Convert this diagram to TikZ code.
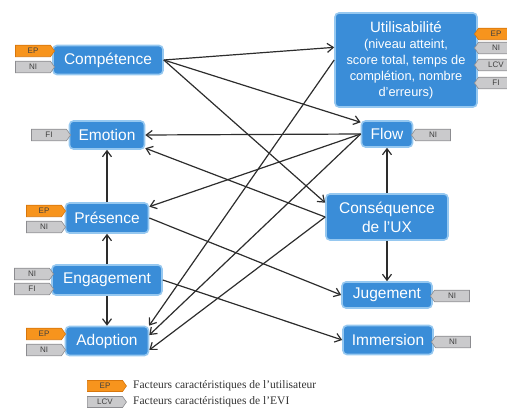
\documentclass[tikz,border=0pt]{standalone}
\usepackage{fontspec}
\setmainfont{Liberation Serif}
\setsansfont{Liberation Sans}
\usetikzlibrary{arrows.meta,shapes.symbols}
\definecolor{boxblue}{RGB}{58,141,216}
\definecolor{boxglow}{RGB}{150,200,240}
\definecolor{tagorange}{RGB}{247,148,29}
\definecolor{tagorangeline}{RGB}{215,118,12}
\definecolor{taggray}{RGB}{202,202,204}
\definecolor{taggrayline}{RGB}{140,140,144}
\definecolor{linkgray}{RGB}{45,45,45}
\tikzset{
  concept/.style={rectangle, rounded corners=4pt, fill=boxblue, draw=boxglow,
    line width=1.6pt, text=white, font=\sffamily\fontsize{15.5}{18}\selectfont,
    align=center, inner sep=2pt},
  tagbase/.style={signal, signal pointer angle=110, minimum width=39pt,
    minimum height=11.5pt, inner sep=0pt, line width=0.6pt,
    font=\sffamily\fontsize{8}{9}\selectfont, text=black!75},
  tagR/.style={tagbase, signal to=east},
  tagL/.style={tagbase, signal to=west},
  ep/.style={fill=tagorange, draw=tagorangeline},
  gr/.style={fill=taggray, draw=taggrayline},
  link/.style={draw=linkgray, line width=1.2pt,
    -{Straight Barb[length=6pt,width=9pt,line width=1.2pt]}},
  legendtext/.style={anchor=west, inner sep=0pt, text=black!80,
    font=\fontsize{11.5}{13}\selectfont}
}
\begin{document}
\begin{tikzpicture}[x=1pt,y=-1pt]
  \useasboundingbox (0,0) rectangle (507,417);
  \clip (0,0) rectangle (507,417);

  % concept boxes
  \node[concept, minimum width=110pt, minimum height=29pt] (comp) at (108,60) {Compétence};
  \node[concept, minimum width=142pt, minimum height=94pt,
        font=\sffamily\fontsize{12.8}{16}\selectfont] (util) at (406,60)
        {{\fontsize{15}{17}\selectfont Utilisabilité}\\(niveau atteint,\\score total, temps de\\complétion, nombre\\d'erreurs)};
  \node[concept, minimum width=75pt, minimum height=28pt] (emo) at (107,135) {Emotion};
  \node[concept, minimum width=51pt, minimum height=26pt] (flow) at (387,134) {Flow};
  \node[concept, minimum width=83pt, minimum height=30pt] (pres) at (107,218) {Présence};
  \node[concept, minimum width=122pt, minimum height=46pt,
        font=\sffamily\fontsize{15.5}{19}\selectfont] (cons) at (387,217) {Conséquence\\de l'UX};
  \node[concept, minimum width=110pt, minimum height=30pt] (eng) at (107,280) {Engagement};
  \node[concept, minimum width=90pt, minimum height=26pt] (jug) at (387,295) {Jugement};
  \node[concept, minimum width=83pt, minimum height=29pt] (adop) at (107,341) {Adoption};
  \node[concept, minimum width=90pt, minimum height=29pt] (imm) at (388,340) {Immersion};

  % factor tags, left side
  \node[tagR, ep] (compEP) at (33,51) {EP};
  \node[tagR, gr] (compNI) at (33,67) {NI};
  \node[tagR, gr] (emoFI) at (49,135) {FI};
  \node[tagR, ep] (presEP) at (44,211) {EP};
  \node[tagR, gr] (presNI) at (44,227) {NI};
  \node[tagR, gr] (engNI) at (32,274) {NI};
  \node[tagR, gr] (engFI) at (32,289) {FI};
  \node[tagR, ep] (adopEP) at (44,334) {EP};
  \node[tagR, gr] (adopNI) at (44,350) {NI};

  % factor tags, right side
  \node[tagL, ep] (utilEP) at (496,34) {EP};
  \node[tagL, gr] (utilNI) at (496,48) {NI};
  \node[tagL, gr] (utilLCV) at (496,65) {LCV};
  \node[tagL, gr] (utilFI) at (496,83) {FI};
  \node[tagL, gr] (flowNI) at (433,135) {NI};
  \node[tagL, gr] (jugNI) at (452,296) {NI};
  \node[tagL, gr] (immNI) at (453,342) {NI};

  % links
  \draw[link] (comp.east) -- (util.170);
  \draw[link] (comp.east) -- (flow.156);
  \draw[link] (comp.east) -- (cons.167);
  \draw[link] (flow.west) -- (emo.east);
  \draw[link] (cons.west) -- (emo.-19);
  \draw[link] (flow.west) -- (pres.15);
  \draw[link] (util.west) -- (adop.20);
  \draw[link] (flow.west) -- (adop.8);
  \draw[link] (cons.west) -- (adop.-12);
  \draw[link] (pres.east) -- (jug.west);
  \draw[link] (eng.east) -- (imm.west);
  \draw[link] (pres.north) -- (emo.south);
  \draw[link] (eng.north) -- (pres.south);
  \draw[link] (eng.south) -- (adop.north);
  \draw[link] (cons.north) -- (flow.south);
  \draw[link] (cons.south) -- (jug.north);

  % legend
  \node[tagR, ep, minimum height=11pt] (legEP) at (105,386) {EP};
  \node[tagR, gr, minimum height=11pt] (legLCV) at (105,402) {LCV};
  \node[legendtext] (legEPtext) at (133,386) {Facteurs caractéristiques de l’utilisateur};
  \node[legendtext] (legLCVtext) at (133,402) {Facteurs caractéristiques de l’EVI};
\end{tikzpicture}
\end{document}
